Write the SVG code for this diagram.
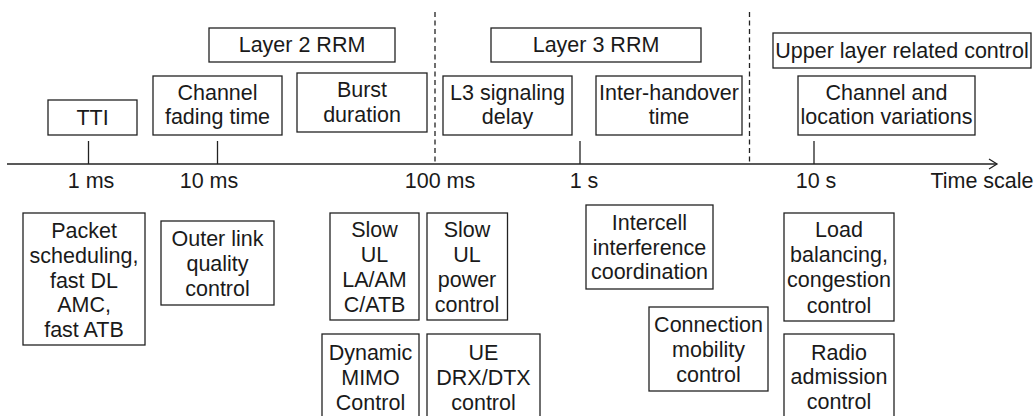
<svg xmlns="http://www.w3.org/2000/svg" width="1034" height="416" viewBox="0 0 1034 416">
  <style>
    .box { fill: #ffffff; stroke: #222222; stroke-width: 1.3; }
    .lbl { font-family: "Liberation Sans", Arial, Helvetica, sans-serif; font-size: 21.5px; fill: #1a1a1a; text-anchor: middle; }
    .axis { stroke: #222222; stroke-width: 1.3; fill: none; }
    .sep { stroke: #222222; stroke-width: 1.3; stroke-dasharray: 5 3.5; fill: none; }
  </style>
  <defs>
    <marker id="openArrow" markerWidth="12" markerHeight="12" refX="9" refY="6" orient="auto" markerUnits="userSpaceOnUse">
      <path d="M1,1 L9,6 L1,11" fill="none" stroke="#222222" stroke-width="1.3"/>
    </marker>
  </defs>
  <rect width="1034" height="416" fill="#ffffff"/>

  <!-- time axis, ticks and layer separators -->
  <g id="connectors">
    <line class="axis" x1="7" y1="164" x2="997" y2="164" marker-end="url(#openArrow)"/>
    <line class="axis" x1="88.5" y1="141" x2="88.5" y2="164"/>
    <line class="axis" x1="217.5" y1="141" x2="217.5" y2="164"/>
    <line class="axis" x1="580" y1="141" x2="580" y2="164"/>
    <line class="axis" x1="814" y1="141" x2="814" y2="164"/>
    <line class="sep" x1="435" y1="12" x2="435" y2="164"/>
    <line class="sep" x1="749.5" y1="12" x2="749.5" y2="164"/>
  </g>

  <!-- axis labels -->
  <g id="axis-labels" class="lbl">
    <text x="91" y="188">1 ms</text>
    <text x="209" y="188">10 ms</text>
    <text x="440" y="188">100 ms</text>
    <text x="584" y="188">1 s</text>
    <text x="816" y="188">10 s</text>
    <text x="982" y="188">Time scale</text>
  </g>

  <!-- layer headers -->
  <g id="layer2">
    <rect class="box" x="209" y="28" width="186" height="34"/>
    <text class="lbl" x="302" y="51.5">Layer 2 RRM</text>
  </g>
  <g id="layer3">
    <rect class="box" x="491" y="28" width="210" height="34"/>
    <text class="lbl" x="596" y="51.5">Layer 3 RRM</text>
  </g>
  <g id="upper">
    <rect class="box" x="773" y="33" width="258" height="35"/>
    <text class="lbl" x="902" y="58">Upper layer related control</text>
  </g>

  <!-- time constants above the axis -->
  <g id="tti">
    <rect class="box" x="48" y="100" width="89" height="35"/>
    <text class="lbl" x="92.5" y="124.5">TTI</text>
  </g>
  <g id="fading">
    <rect class="box" x="153" y="76" width="129" height="59"/>
    <text class="lbl" x="217.5" y="100">Channel</text>
    <text class="lbl" x="217.5" y="124">fading time</text>
  </g>
  <g id="burst">
    <rect class="box" x="297" y="73" width="130" height="59"/>
    <text class="lbl" x="362" y="97">Burst</text>
    <text class="lbl" x="362" y="121.5">duration</text>
  </g>
  <g id="l3delay">
    <rect class="box" x="443" y="76" width="129" height="59"/>
    <text class="lbl" x="507.5" y="100">L3 signaling</text>
    <text class="lbl" x="507.5" y="124">delay</text>
  </g>
  <g id="handover">
    <rect class="box" x="596" y="76" width="146" height="59"/>
    <text class="lbl" x="669" y="100">Inter-handover</text>
    <text class="lbl" x="669" y="124">time</text>
  </g>
  <g id="variations">
    <rect class="box" x="798" y="76" width="177" height="59"/>
    <text class="lbl" x="886.5" y="100">Channel and</text>
    <text class="lbl" x="886.5" y="124">location variations</text>
  </g>

  <!-- RRM functions below the axis -->
  <g id="scheduling">
    <rect class="box" x="23" y="213" width="122" height="132"/>
    <text class="lbl" x="84" y="238">Packet</text>
    <text class="lbl" x="84" y="262.5">scheduling,</text>
    <text class="lbl" x="84" y="287.5">fast DL</text>
    <text class="lbl" x="84" y="312">AMC,</text>
    <text class="lbl" x="84" y="336.5">fast ATB</text>
  </g>
  <g id="outerlink">
    <rect class="box" x="161" y="221" width="113" height="84"/>
    <text class="lbl" x="217.5" y="245.5">Outer link</text>
    <text class="lbl" x="217.5" y="270.5">quality</text>
    <text class="lbl" x="217.5" y="295.5">control</text>
  </g>
  <g id="slowlaam">
    <rect class="box" x="330" y="213" width="89" height="107"/>
    <text class="lbl" x="374.5" y="237">Slow</text>
    <text class="lbl" x="374.5" y="262">UL</text>
    <text class="lbl" x="374.5" y="287">LA/AM</text>
    <text class="lbl" x="374.5" y="312">C/ATB</text>
  </g>
  <g id="slowpower">
    <rect class="box" x="427" y="213" width="80.5" height="107"/>
    <text class="lbl" x="467" y="237">Slow</text>
    <text class="lbl" x="467" y="262">UL</text>
    <text class="lbl" x="467" y="287">power</text>
    <text class="lbl" x="467" y="312">control</text>
  </g>
  <g id="mimo">
    <rect class="box" x="322" y="334" width="97" height="90"/>
    <text class="lbl" x="370.5" y="360">Dynamic</text>
    <text class="lbl" x="370.5" y="385">MIMO</text>
    <text class="lbl" x="370.5" y="410">Control</text>
  </g>
  <g id="drx">
    <rect class="box" x="427" y="334" width="113" height="90"/>
    <text class="lbl" x="483.5" y="360">UE</text>
    <text class="lbl" x="483.5" y="385">DRX/DTX</text>
    <text class="lbl" x="483.5" y="410">control</text>
  </g>
  <g id="intercell">
    <rect class="box" x="586" y="205" width="127" height="84"/>
    <text class="lbl" x="649.5" y="229.5">Intercell</text>
    <text class="lbl" x="649.5" y="254.5">interference</text>
    <text class="lbl" x="649.5" y="279">coordination</text>
  </g>
  <g id="mobility">
    <rect class="box" x="649" y="307" width="119" height="84"/>
    <text class="lbl" x="708.5" y="331.5">Connection</text>
    <text class="lbl" x="708.5" y="356.5">mobility</text>
    <text class="lbl" x="708.5" y="381.5">control</text>
  </g>
  <g id="loadbalancing">
    <rect class="box" x="784" y="213" width="110" height="108"/>
    <text class="lbl" x="839" y="237">Load</text>
    <text class="lbl" x="839" y="262">balancing,</text>
    <text class="lbl" x="839" y="287">congestion</text>
    <text class="lbl" x="839" y="312.5">control</text>
  </g>
  <g id="admission">
    <rect class="box" x="784" y="334" width="110" height="90"/>
    <text class="lbl" x="839" y="359.5">Radio</text>
    <text class="lbl" x="839" y="384">admission</text>
    <text class="lbl" x="839" y="408.5">control</text>
  </g>
</svg>
